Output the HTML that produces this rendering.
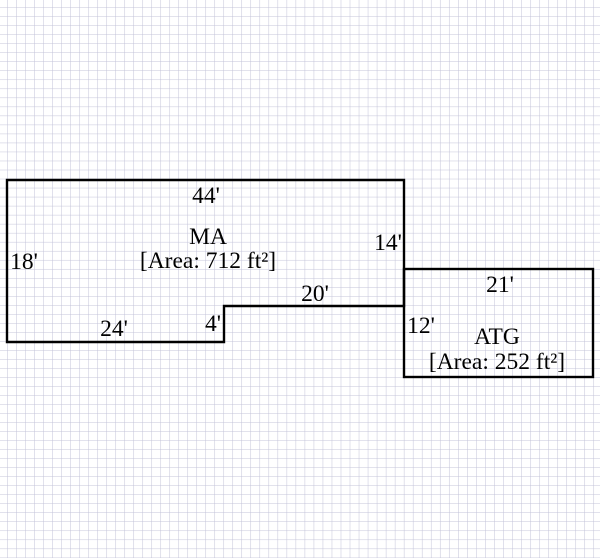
<!DOCTYPE html>
<html><head><style>html,body{margin:0;padding:0;background:#fff}svg{display:block}</style></head>
<body>
<svg width="600" height="558" xmlns="http://www.w3.org/2000/svg">
<defs>
<pattern id="g" x="7" y="7.4" width="9.02" height="9.02" patternUnits="userSpaceOnUse">
<path d="M0 0H9.02M0 0V9.02" stroke="#c2c2d8" stroke-width="1" fill="none"/>
</pattern>
</defs>
<rect width="600" height="558" fill="#fff"/>
<rect width="600" height="558" fill="url(#g)"/>
<g fill="none" stroke="#000" stroke-width="2.4">
<path d="M7 180H404V306H224V342H7Z"/>
<rect x="404" y="269" width="189" height="108"/>
</g>
<g font-family="Liberation Serif, serif" font-size="23.5" fill="#000" text-anchor="middle">
<text x="206" y="203">44'</text>
<text x="208" y="244">MA</text>
<text x="208" y="268">[Area: 712 ft²]</text>
<text x="24" y="269">18'</text>
<text x="388" y="250">14'</text>
<text x="315" y="301">20'</text>
<text x="114" y="336">24'</text>
<text x="213" y="331">4'</text>
<text x="500" y="292">21'</text>
<text x="421" y="333">12'</text>
<text x="497" y="344">ATG</text>
<text x="497" y="369">[Area: 252 ft²]</text>
</g>
</svg>
</body></html>
